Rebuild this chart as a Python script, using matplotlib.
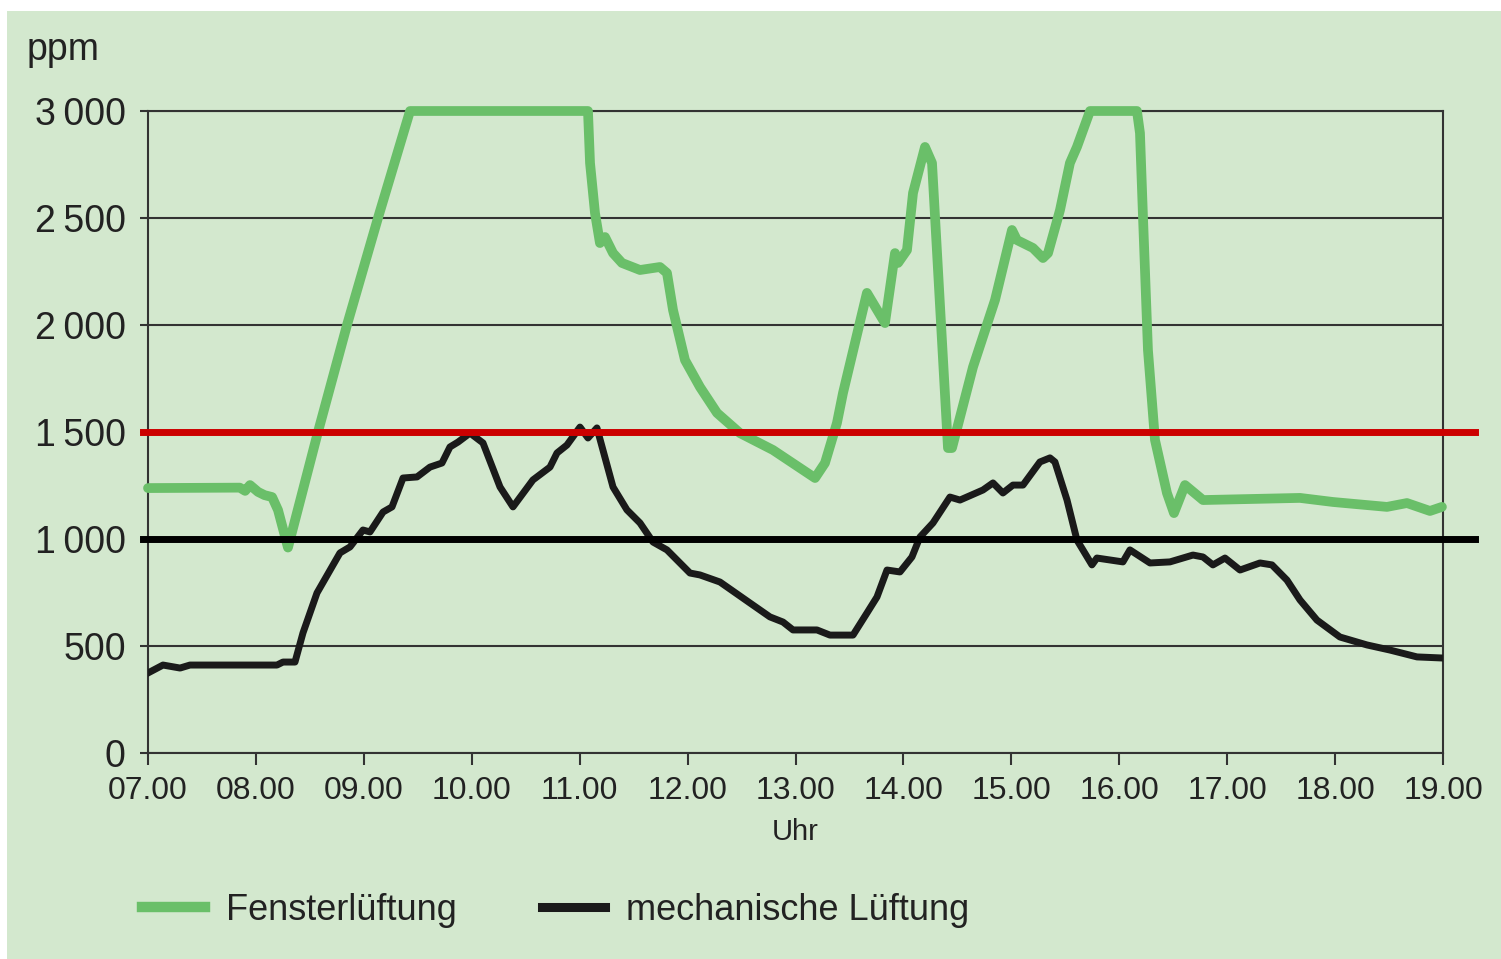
import matplotlib
matplotlib.use("Agg")
import matplotlib.pyplot as plt
from matplotlib.lines import Line2D
from matplotlib.patches import Rectangle

plt.rcParams['font.family'] = ['Liberation Sans', 'DejaVu Sans']

# CO2 concentration over the day (hours, ppm)
fenster_h = [7.00, 7.85, 7.90, 7.945, 8.02, 8.08, 8.15, 8.205, 8.297, 8.575, 8.844,
             9.131, 9.428, 11.077, 11.096, 11.142, 11.188, 11.235, 11.309, 11.392,
             11.559, 11.744, 11.809, 11.865, 11.976, 12.115, 12.273, 12.485, 12.791,
             13.041, 13.181, 13.273, 13.384, 13.440, 13.662, 13.829, 13.922, 13.950,
             14.033, 14.089, 14.200, 14.265, 14.413, 14.450, 14.645, 14.849, 15.006,
             15.052, 15.200, 15.293, 15.340, 15.451, 15.543, 15.608, 15.729, 16.164,
             16.192, 16.220, 16.266, 16.331, 16.442, 16.507, 16.609, 16.776, 17.675,
             17.980, 18.481, 18.666, 18.879, 18.990]
fenster_ppm = [1238, 1240, 1225, 1252, 1220, 1205, 1196, 1135, 960, 1500, 2000,
               2500, 3000, 3000, 2757, 2523, 2383, 2411, 2336, 2290,
               2257, 2271, 2243, 2070, 1836, 1710, 1589, 1495, 1416,
               1332, 1285, 1355, 1542, 1682, 2150, 2009, 2336, 2290,
               2350, 2617, 2832, 2757, 1425, 1425, 1804, 2117, 2444,
               2397, 2360, 2313, 2336, 2537, 2757, 2832, 3000, 3000,
               2897, 2505, 1883, 1463, 1215, 1121, 1252, 1182, 1192,
               1173, 1150, 1168, 1131, 1150]

mech_h = [7.0, 7.139, 7.297, 7.389, 8.195, 8.251, 8.362, 8.436, 8.566, 8.779, 8.872,
          8.992, 9.057, 9.178, 9.261, 9.363, 9.493, 9.613, 9.724, 9.798, 9.873,
          9.984, 10.104, 10.262, 10.382, 10.567, 10.725, 10.790, 10.882, 11.003,
          11.077, 11.160, 11.309, 11.438, 11.559, 11.679, 11.809, 12.022, 12.115,
          12.300, 12.578, 12.763, 12.884, 12.977, 13.199, 13.319, 13.533, 13.662,
          13.755, 13.848, 13.968, 14.079, 14.153, 14.274, 14.431, 14.524, 14.737,
          14.830, 14.922, 15.015, 15.108, 15.265, 15.358, 15.404, 15.516, 15.608,
          15.747, 15.793, 16.034, 16.099, 16.285, 16.470, 16.683, 16.776, 16.868,
          16.980, 17.119, 17.304, 17.415, 17.554, 17.675, 17.832, 18.045, 18.295,
          18.509, 18.759, 18.990]
mech_ppm = [374, 411, 397, 411, 411, 425, 425, 561, 748, 935, 963,
            1042, 1033, 1126, 1150, 1285, 1290, 1336, 1355, 1430, 1453,
            1495, 1449, 1243, 1150, 1276, 1336, 1402, 1439, 1523,
            1472, 1519, 1243, 1136, 1075, 986, 949, 841, 832,
            799, 701, 636, 612, 575, 575, 551, 551, 654,
            729, 855, 846, 916, 1009, 1075, 1196, 1182, 1229,
            1262, 1215, 1252, 1252, 1360, 1379, 1360, 1182, 995,
            879, 911, 893, 949, 888, 893, 925, 916, 879,
            911, 855, 888, 879, 808, 715, 621, 542, 505,
            481, 449, 444]

limit_red = 1500
limit_black = 1000

hours = list(range(7, 20))
hour_labels = [f"{h:02d}.00" for h in hours]
y_ticks = [0, 500, 1000, 1500, 2000, 2500, 3000]
y_labels = ["0", "500", "1\u2009000", "1\u2009500", "2\u2009000", "2\u2009500", "3\u2009000"]

bg = '#d3e8ce'
green = '#6abf69'
red = '#cc0000'

fig = plt.figure(figsize=(15.01, 9.59), dpi=100, facecolor='white')
fig.patches.append(Rectangle((7 / 1501, 0), 1, 1 - 11 / 959, transform=fig.transFigure,
                             facecolor=bg, edgecolor='none', zorder=-10))
ax = fig.add_axes([148 / 1501, 1 - 753 / 959, 1295 / 1501, 642 / 959])
ax.set_facecolor(bg)

ax.plot(fenster_h, fenster_ppm, color=green, lw=7, solid_joinstyle='round',
        solid_capstyle='round', clip_on=False, zorder=3)
ax.plot(mech_h, mech_ppm, color='#1a1a1a', lw=5, solid_joinstyle='round', zorder=4)

trans = ax.get_yaxis_transform()
ax.plot([-0.004, 1.0247], [limit_black, limit_black], color='black', lw=5,
        transform=trans, clip_on=False, zorder=5)
ax.plot([-0.004, 1.0247], [limit_red, limit_red], color=red, lw=5,
        transform=trans, clip_on=False, zorder=6)

ax.set_xlim(7, 19)
ax.set_ylim(0, 3000)
ax.set_xticks(hours)
ax.set_xticklabels(hour_labels, fontsize=23, color='#222222')
ax.set_yticks(y_ticks)
ax.set_yticklabels(y_labels, fontsize=27, color='#222222')
ax.tick_params(axis='x', direction='out', length=8.5, width=1.5, color='#333333', pad=8)
ax.tick_params(axis='y', direction='out', length=6, width=1.5, color='#333333', pad=10)
ax.yaxis.grid(True, color='#333333', lw=1.5)
ax.set_axisbelow(True)
for s in ax.spines.values():
    s.set_color('#333333')
    s.set_linewidth(1.5)

ax.set_xlabel("Uhr", fontsize=21, color='#222222', labelpad=9)
fig.text(27 / 1501, 1 - 50 / 959, "ppm", fontsize=27, color='#222222', va='center', ha='left')

handles = [Line2D([], [], color=green, lw=7.5),
           Line2D([], [], color='#1a1a1a', lw=6.5)]
fig.legend(handles, ["Fensterlüftung", "mechanische Lüftung"], ncol=2, frameon=False,
           loc='center left', bbox_to_anchor=(142 / 1501, 1 - 910 / 959),
           fontsize=26, handlelength=1.75, handletextpad=0.58, columnspacing=2.36,
           borderpad=0, borderaxespad=0, labelcolor='#222222')

fig.savefig("out.png", dpi=100, facecolor=fig.get_facecolor())
